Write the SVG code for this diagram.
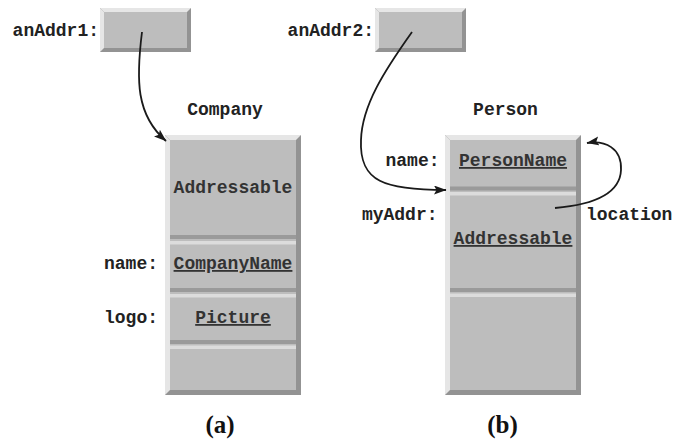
<svg xmlns="http://www.w3.org/2000/svg" width="690" height="440" viewBox="0 0 690 440">
<style>
.t{font-family:"Liberation Mono","Courier New",monospace;font-weight:bold;font-size:18px;fill:#222}
.in{fill:#333}
.u{text-decoration:underline}
.cap{font-family:"Liberation Serif","Times New Roman",serif;font-weight:bold;font-size:25px;fill:#111}
.face{fill:#bdbdbd}
.lt{fill:#e6e6e6}
.dk{fill:#939393}
.dd{fill:#9a9a9a}
.dl{fill:#dcdcdc}
.con{fill:none;stroke:#1a1a1a;stroke-width:1.8}
</style>
<defs>
<marker id="ah" markerUnits="userSpaceOnUse" markerWidth="14" markerHeight="10" refX="12" refY="4.5" orient="auto" viewBox="0 0 14 10">
<path d="M0,0 L12.5,4.5 L0,9 L2.5,4.5 z" fill="#1a1a1a"/>
</marker>
</defs>
<rect width="690" height="440" fill="#fff"/>

<g id="anAddr1">
<text class="t" x="99" y="36" text-anchor="end">anAddr1:</text>
<rect class="dk" x="100" y="8" width="91" height="44"/>
<polygon class="lt" points="100,8 191,8 187,12 104,12"/>
<polygon class="lt" points="100,8 104,12 104,48 100,52"/>
<rect class="face" x="104" y="12" width="83" height="36"/>
</g>

<g id="anAddr2">
<text class="t" x="374" y="36" text-anchor="end">anAddr2:</text>
<rect class="dk" x="375" y="8" width="91" height="44"/>
<polygon class="lt" points="375,8 466,8 462,12 379,12"/>
<polygon class="lt" points="375,8 379,12 379,48 375,52"/>
<rect class="face" x="379" y="12" width="83" height="36"/>
</g>

<g id="company">
<text class="t" x="225" y="115" text-anchor="middle">Company</text>
<rect class="dk" x="165" y="135" width="136" height="260"/>
<polygon class="lt" points="165,135 301,135 296,140 170,140"/>
<polygon class="lt" points="165,135 170,140 170,390 165,395"/>
<rect class="face" x="170" y="140" width="126" height="250"/>
<rect class="dd" x="170" y="235" width="126" height="4"/>
<rect class="dl" x="170" y="241" width="126" height="3.5"/>
<rect class="dd" x="170" y="288" width="126" height="4"/>
<rect class="dl" x="170" y="294" width="126" height="3.5"/>
<rect class="dd" x="170" y="340" width="126" height="4"/>
<rect class="dl" x="170" y="345.5" width="126" height="3.5"/>
<text class="t in" x="233" y="193" text-anchor="middle">Addressable</text>
<text class="t in u" x="233" y="269" text-anchor="middle">CompanyName</text>
<text class="t in u" x="233" y="323" text-anchor="middle">Picture</text>
<text class="t" x="158" y="269" text-anchor="end">name:</text>
<text class="t" x="158" y="323" text-anchor="end">logo:</text>
</g>

<g id="person">
<text class="t" x="505.5" y="115" text-anchor="middle">Person</text>
<rect class="dk" x="445" y="135" width="136" height="260"/>
<polygon class="lt" points="445,135 581,135 576,140 450,140"/>
<polygon class="lt" points="445,135 450,140 450,390 445,395"/>
<rect class="face" x="450" y="140" width="126" height="250"/>
<rect class="dd" x="450" y="186.5" width="126" height="4"/>
<rect class="dl" x="450" y="192" width="126" height="3.5"/>
<rect class="dd" x="450" y="288" width="126" height="4"/>
<rect class="dl" x="450" y="293.5" width="126" height="3.5"/>
<text class="t in u" x="513" y="166" text-anchor="middle">PersonName</text>
<text class="t in u" x="513" y="244" text-anchor="middle">Addressable</text>
<text class="t" x="439.5" y="166" text-anchor="end">name:</text>
<text class="t" x="437.5" y="220" text-anchor="end">myAddr:</text>
<text class="t" x="586" y="220">location</text>
</g>

<g id="connectors">
<path class="con" d="M142,32 C136,80 136,115 166,141" marker-end="url(#ah)"/>
<path class="con" d="M412,32 C385,70 362,105 361,140 C359,182 385,190 446,190" marker-end="url(#ah)"/>
<path class="con" d="M555,208 C590,205 620,195 621,170 C622,148 605,140 587,143" marker-end="url(#ah)"/>
</g>

<g id="captions">
<text class="cap" x="220" y="433" text-anchor="middle">(a)</text>
<text class="cap" x="502.5" y="433" text-anchor="middle">(b)</text>
</g>
</svg>
